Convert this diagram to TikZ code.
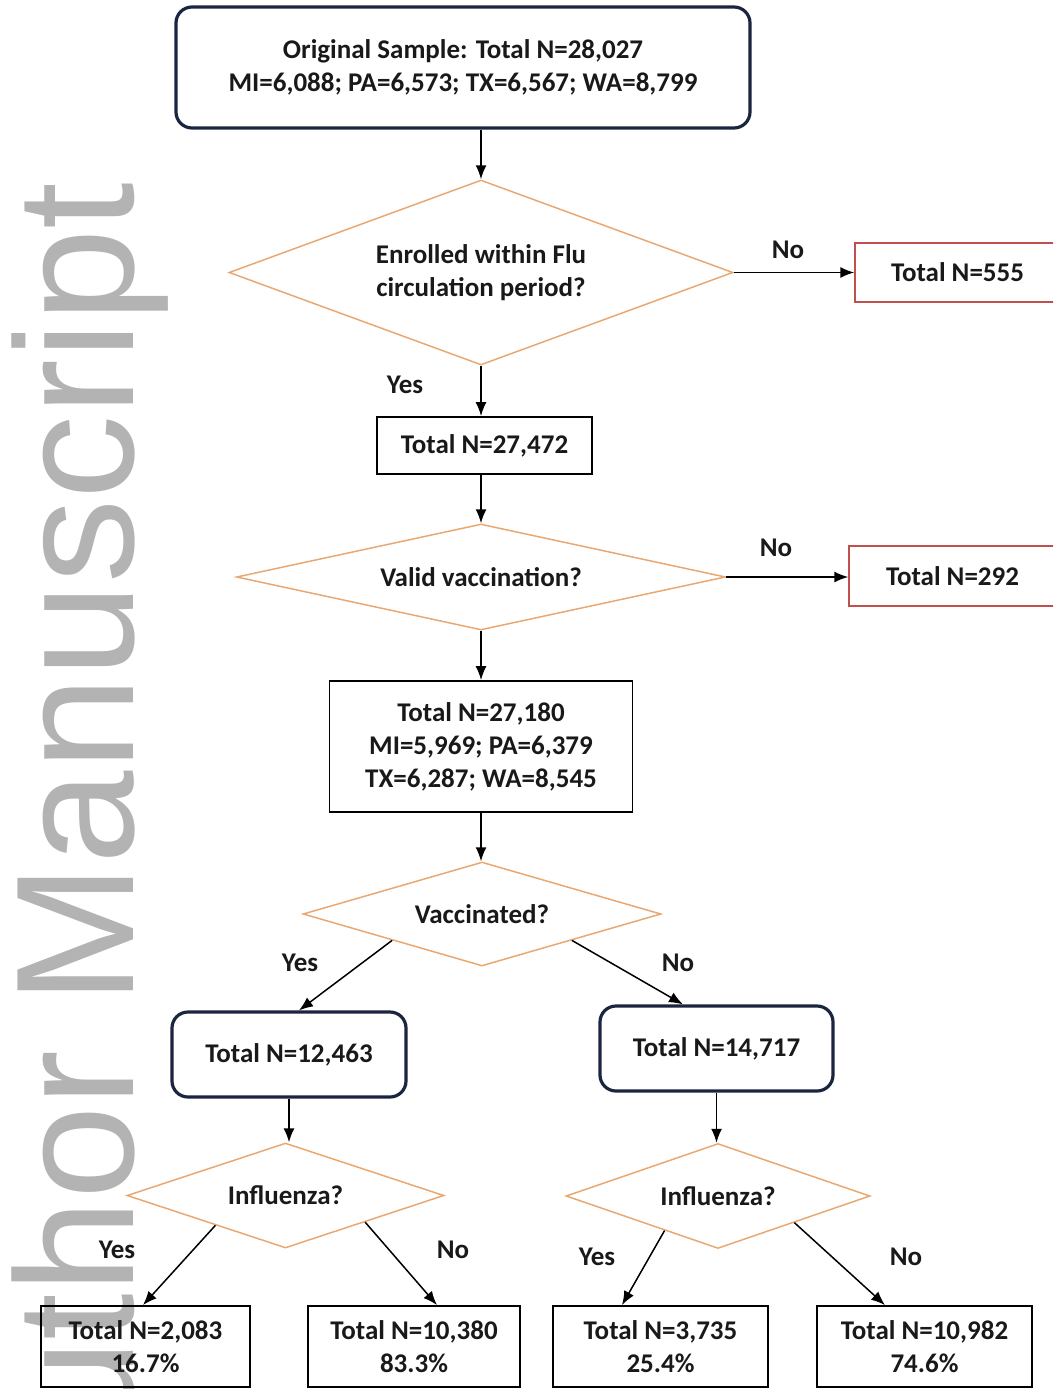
\documentclass[tikz,border=0pt]{standalone}
\usepackage{fontspec}
\setmainfont{Carlito}
\newfontfamily\wmfont{Liberation Sans}
\usetikzlibrary{shapes.geometric,arrows.meta,calc}
\definecolor{navy}{HTML}{1B2540}
\definecolor{peach}{HTML}{E8A873}
\definecolor{brick}{HTML}{C0504D}
\definecolor{wmgray}{HTML}{B3B3B3}

\begin{document}
\begin{tikzpicture}[x=1pt,y=-1pt,
  txt/.style={font=\fontsize{27}{33}\selectfont\bfseries, align=center, inner sep=0pt, text=black!90},
  rbox/.style={txt, draw=navy, line width=3.2pt, rounded corners=16pt},
  sbox/.style={txt, draw=black, line width=1.8pt},
  xbox/.style={txt, draw=brick, line width=1.5pt},
  dec/.style={txt, diamond, aspect=3, draw=peach, line width=1.5pt},
  lbl/.style={txt},
  arr/.style={-{Latex[length=14pt,width=11pt]}, line width=1.5pt}
]
\useasboundingbox (0,0) rectangle (1053,1389);
\clip (0,0) rectangle (1053,1389);

% Watermark
\node[font=\wmfont\fontsize{168}{168}\selectfont, text=wmgray, rotate=90, anchor=base east, inner sep=0pt] (wm) at (133,182) {Author Manuscript};

% Top part
\node[rbox, minimum width=574pt, minimum height=121pt] (orig) at (463,67.5) {Original Sample: Total N=28,027\\MI=6,088; PA=6,573; TX=6,567; WA=8,799};
\node[dec, minimum width=504pt, minimum height=185pt] (flu) at (481,272.5) {Enrolled within Flu\\circulation period?};
\node[xbox, minimum width=205pt, minimum height=59pt] (out1) at (957.5,272.5) {Total N=555};
\node[sbox, minimum width=215pt, minimum height=57pt] (n2) at (484.5,445.5) {Total N=27,472};
\node[dec, minimum width=489pt, minimum height=106pt] (valid) at (481,577) {Valid vaccination?};
\node[xbox, minimum width=207pt, minimum height=60pt] (out2) at (952.5,576) {Total N=292};
\node[sbox, minimum width=303pt, minimum height=131pt] (n3) at (481,746.5) {Total N=27,180\\MI=5,969; PA=6,379\\TX=6,287; WA=8,545};
\node[dec, minimum width=358pt, minimum height=104pt] (vacc) at (482,914) {Vaccinated?};

% Vaccinated / unvaccinated
\node[rbox, minimum width=234pt, minimum height=85pt] (vy) at (289,1054.5) {Total N=12,463};
\node[rbox, minimum width=233pt, minimum height=85pt] (vn) at (716.5,1048.5) {Total N=14,717};
\node[dec, minimum width=317pt, minimum height=105pt] (fy) at (285.5,1195.5) {Influenza?};
\node[dec, minimum width=304pt, minimum height=105pt] (fn) at (718,1196) {Influenza?};

% Bottom row
\node[sbox, minimum width=209pt, minimum height=81pt] (r1) at (145.5,1346.5) {Total N=2,083\\16.7\%};
\node[sbox, minimum width=212pt, minimum height=81pt] (r2) at (414,1346.5) {Total N=10,380\\83.3\%};
\node[sbox, minimum width=215pt, minimum height=81pt] (r3) at (660.5,1346.5) {Total N=3,735\\25.4\%};
\node[sbox, minimum width=215pt, minimum height=81pt] (r4) at (924.5,1346.5) {Total N=10,982\\74.6\%};

% Yes / No labels
\node[lbl] (l1) at (788,250) {No};
\node[lbl] (l2) at (405,385) {Yes};
\node[lbl] (l3) at (776,548) {No};
\node[lbl] (l4) at (300,963) {Yes};
\node[lbl] (l5) at (678,963) {No};
\node[lbl] (l6) at (117,1250) {Yes};
\node[lbl] (l7) at (453,1250) {No};
\node[lbl] (l8) at (597,1257) {Yes};
\node[lbl] (l9) at (906,1257) {No};

% Arrows
\draw[arr] (orig.south -| flu.north) -- (flu.north);
\draw[arr] (flu.east) -- (out1.west);
\draw[arr] (flu.south) -- (flu.south |- n2.north);
\draw[arr] (n2.south -| valid.north) -- (valid.north);
\draw[arr] (valid.east) -- (valid.east -| out2.west);
\draw[arr] (valid.south) -- (n3.north);
\draw[arr] (n3.south) -- (n3.south |- vacc.north);
\draw[arr] (vacc.south west) -- ([xshift=10pt]vy.north);
\draw[arr] (vacc.south east) -- ([xshift=-33.5pt]vn.north);
\draw[arr] (vy.south) -- (vy.south |- fy.north);
\draw[arr] (vn.south) -- (vn.south |- fn.north);
\draw[arr] ($(fy.west)!0.56!(fy.south)$) -- ([xshift=-2.5pt]r1.north);
\draw[arr] (fy.south east) -- ([xshift=23pt]r2.north);
\draw[arr] ($(fn.west)!0.65!(fn.south)$) -- ([xshift=-38.5pt]r3.north);
\draw[arr] (fn.south east) -- ([xshift=-39.5pt]r4.north);

\end{tikzpicture}
\end{document}
